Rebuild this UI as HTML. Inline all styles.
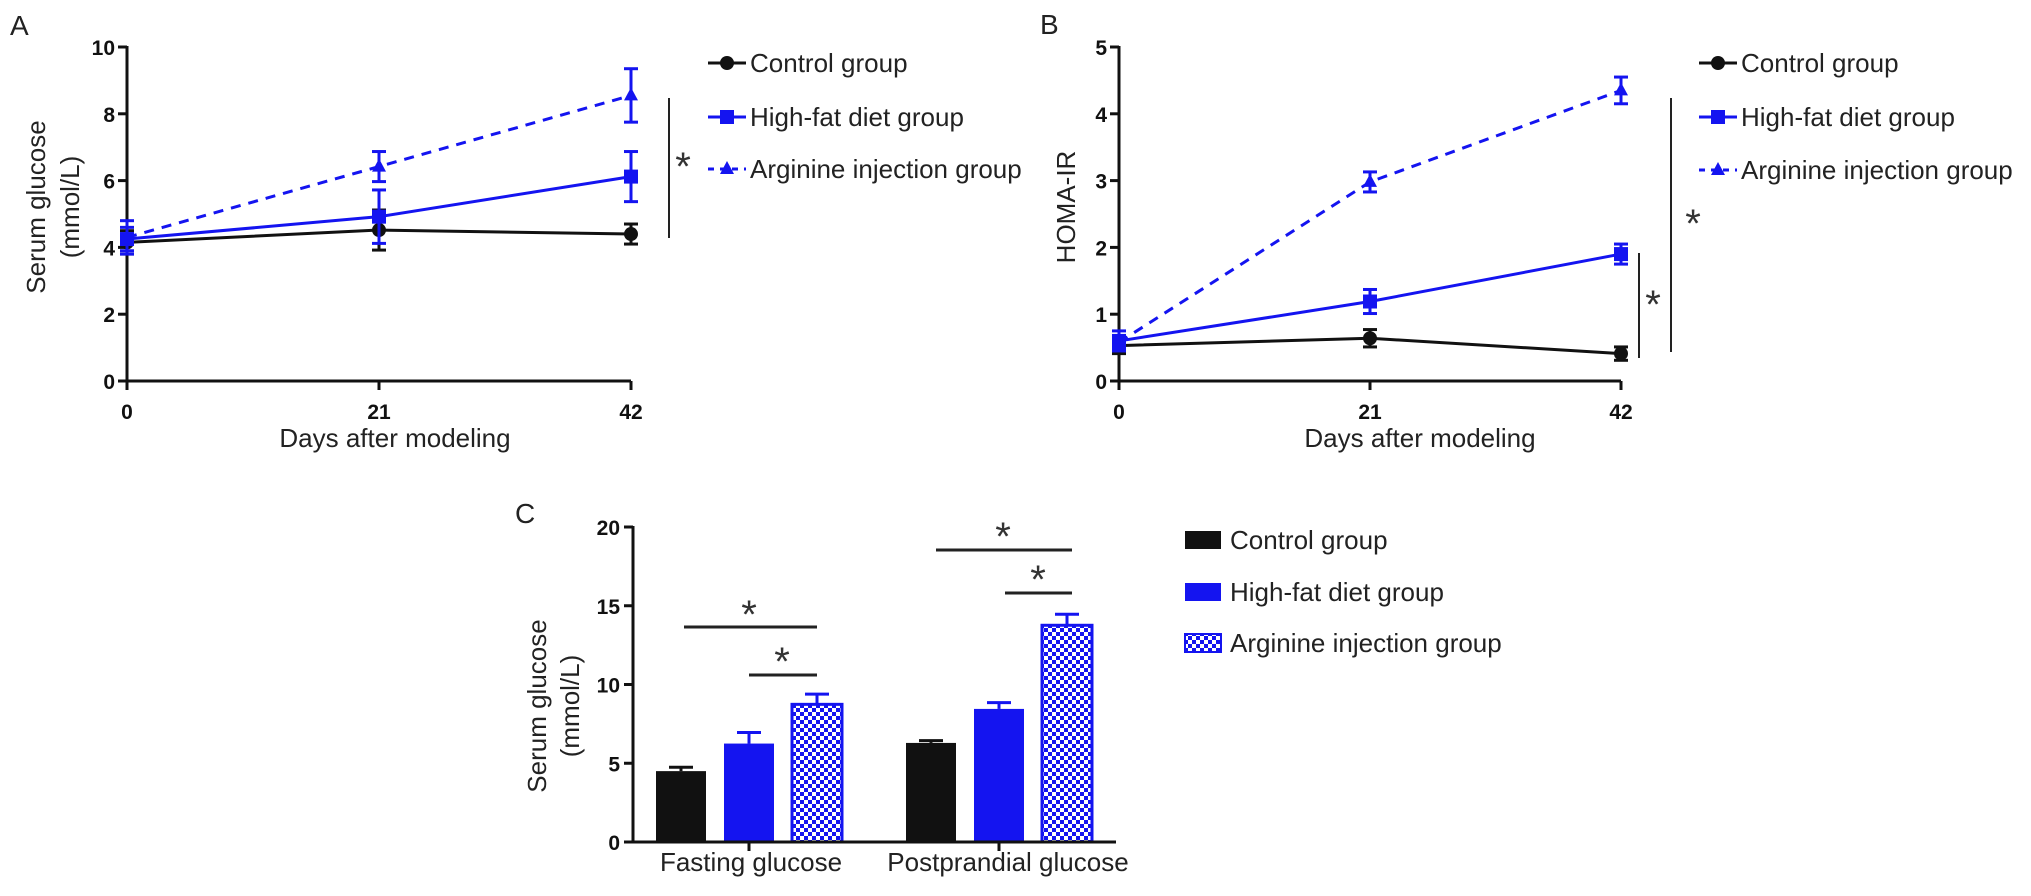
<!DOCTYPE html>
<html><head><meta charset="utf-8"><style>
html,body{margin:0;padding:0;background:#fff;}
svg{display:block;font-family:"Liberation Sans",Arial,sans-serif;}
.tk{font-weight:bold;font-size:21px;fill:#111;}
.lg{font-size:26px;fill:#222;}
.tt{font-size:26px;fill:#222;}
</style></head><body>
<svg id="fig" width="2031" height="896" viewBox="0 0 2031 896" xmlns="http://www.w3.org/2000/svg">
<defs>
<pattern id="chk" width="8" height="8" patternUnits="userSpaceOnUse">
<rect width="8" height="8" fill="#fff"/><rect width="4" height="4" fill="#1414f0"/><rect x="4" y="4" width="4" height="4" fill="#1414f0"/>
</pattern>
</defs>
</svg>
<script>
// Panel A data
const daysX = [0, 21, 42];
const aCtrl = [4.15, 4.52, 4.4];
const aCtrlErr = [0.35, 0.6, 0.3];
const aHF = [4.25, 4.92, 6.12];
const aHFErr = [0.35, 0.8, 0.75];
const aArg = [4.3, 6.42, 8.55];
const aArgErr = [0.5, 0.45, 0.8];
const aTicks = [0, 2, 4, 6, 8, 10];
// Panel B data
const bCtrl = [0.53, 0.64, 0.41];
const bCtrlErr = [0.12, 0.13, 0.1];
const bHF = [0.6, 1.19, 1.9];
const bHFErr = [0.15, 0.18, 0.15];
const bArg = [0.58, 2.98, 4.35];
const bArgErr = [0.1, 0.15, 0.2];
const bTicks = [0, 1, 2, 3, 4, 5];
// Panel C data
const cCats = ["Fasting glucose", "Postprandial glucose"];
const cCtrl = [4.5, 6.29];
const cCtrlErr = [0.25, 0.15];
const cHF = [6.25, 8.45];
const cHFErr = [0.7, 0.4];
const cArg = [8.74, 13.76];
const cArgErr = [0.65, 0.7];
const cTicks = [0, 5, 10, 15, 20];
const xTickLabels = ["0", "21", "42"];
const groups = ["Control group", "High-fat diet group", "Arginine injection group"];

const NS = "http://www.w3.org/2000/svg";
const svg = document.getElementById('fig');
const BLUE = "#1414f0";
function mk(tag, attrs, parent, text) {
  const e = document.createElementNS(NS, tag);
  for (const k in attrs) e.setAttribute(k, attrs[k]);
  if (text !== undefined) e.textContent = text;
  (parent || svg).appendChild(e);
  return e;
}
function marker(kind, x, y, color, g) {
  let m;
  if (kind === 0) m = mk('circle', {cx: x, cy: y, r: 7, fill: color}, g);
  else if (kind === 1) m = mk('rect', {x: x - 7, y: y - 7, width: 14, height: 14, fill: color}, g);
  else m = mk('polygon', {points: `${x},${y - 8} ${x - 7},${y + 5} ${x + 7},${y + 5}`, fill: color}, g);
  return m;
}

function linePanel(p) {
  const xs = d => p.x0 + (d / 42) * (p.x1 - p.x0);
  const ys = v => p.y0 - (v / p.ymax) * (p.y0 - p.ytop);
  const g = mk('g', {});
  
  
  const ya = mk('line', {x1: p.x0, y1: p.ytop - 1, x2: p.x0, y2: p.y0 + 9, stroke: '#111', 'stroke-width': 3}, g);
  
  
  const xa = mk('line', {x1: p.x0 - 9, y1: p.y0, x2: p.x1, y2: p.y0, stroke: '#111', 'stroke-width': 3}, g);
  
  
  p.ticks.forEach(t => {
    mk('line', {x1: p.x0 - 9, y1: ys(t), x2: p.x0, y2: ys(t), stroke: '#111', 'stroke-width': 3}, g);
    const l = mk('text', {x: p.x0 - 12, y: ys(t) + 8, 'text-anchor': 'end', class: 'tk'}, g, String(t));
    
    
  });
  daysX.forEach((d, i) => {
    mk('line', {x1: xs(d), y1: p.y0, x2: xs(d), y2: p.y0 + 9, stroke: '#111', 'stroke-width': 3}, g);
    const l = mk('text', {x: xs(d), y: p.y0 + 38, 'text-anchor': 'middle', class: 'tk'}, g, xTickLabels[i]);
    
    
  });
  const xt = mk('text', {x: p.xtitleX, y: p.y0 + 66, 'text-anchor': 'middle', class: 'tt'}, g, 'Days after modeling');
  
  
  const series = [[p.ctrl, p.ctrlErr, '#111', 0, null], [p.hf, p.hfErr, BLUE, 1, null], [p.arg, p.argErr, BLUE, 2, '10,8']];
  series.forEach((s, si) => {
    const sg = mk('g', {}, g);
    
    
    const pts = s[0].map((v, i) => xs(daysX[i]) + ',' + ys(v)).join(' ');
    const pl = mk('polyline', {points: pts, fill: 'none', stroke: s[2], 'stroke-width': 3}, sg);
    if (s[4]) pl.setAttribute('stroke-dasharray', s[4]);
    s[0].forEach((v, i) => {
      const x = xs(daysX[i]), e = s[1][i];
      mk('line', {x1: x, y1: ys(v + e), x2: x, y2: ys(v - e), stroke: s[2], 'stroke-width': 3}, sg);
      mk('line', {x1: x - 7, y1: ys(v + e), x2: x + 7, y2: ys(v + e), stroke: s[2], 'stroke-width': 3}, sg);
      mk('line', {x1: x - 7, y1: ys(v - e), x2: x + 7, y2: ys(v - e), stroke: s[2], 'stroke-width': 3}, sg);
      const m = marker(s[3], x, ys(v), s[2], sg);
      
      
    });
  });
  groups.forEach((name, i) => {
    const lg = mk('g', {}, g);
    
    
    const y = p.legY[i];
    const col = i === 0 ? '#111' : BLUE;
    const ln = mk('line', {x1: p.legX, y1: y, x2: p.legX + 38, y2: y, stroke: col, 'stroke-width': 3}, lg);
    if (i === 2) ln.setAttribute('stroke-dasharray', '6,6');
    marker(i, p.legX + 19, y, col, lg);
    mk('text', {x: p.legX + 42, y: y + 9, class: 'lg'}, lg, name);
  });
}

linePanel({name: 'panel-a', x0: 127, x1: 631, y0: 381, ytop: 47, ymax: 10, ticks: aTicks,
  ctrl: aCtrl, ctrlErr: aCtrlErr, hf: aHF, hfErr: aHFErr, arg: aArg, argErr: aArgErr,
  legX: 708, legY: [63, 117, 169], xtitleX: 395});
linePanel({name: 'panel-b', x0: 1119, x1: 1621, y0: 381, ytop: 47, ymax: 5, ticks: bTicks,
  ctrl: bCtrl, ctrlErr: bCtrlErr, hf: bHF, hfErr: bHFErr, arg: bArg, argErr: bArgErr,
  legX: 1699, legY: [63, 117, 170], xtitleX: 1420});

function txt(a, s, name) { const t = mk('text', a, svg, s);   return t; }
txt({x: 10, y: 35, style: 'font-size:28px;fill:#222'}, 'A', 'panel-label-a');
txt({x: 1040, y: 34, style: 'font-size:28px;fill:#222'}, 'B', 'panel-label-b');
txt({x: 515, y: 523, style: 'font-size:28px;fill:#222'}, 'C', 'panel-label-c');
txt({x: 0, y: 0, class: 'tt', 'text-anchor': 'middle', transform: 'translate(45,207) rotate(-90)'}, 'Serum glucose', 'y-axis-title-a');
txt({x: 0, y: 0, class: 'tt', 'text-anchor': 'middle', transform: 'translate(79,207) rotate(-90)'}, '(mmol/L)', 'y-axis-title-a-unit');
txt({x: 0, y: 0, class: 'tt', 'text-anchor': 'middle', transform: 'translate(1075,207) rotate(-90)'}, 'HOMA-IR', 'y-axis-title-b');
txt({x: 0, y: 0, class: 'tt', 'text-anchor': 'middle', transform: 'translate(546,706) rotate(-90)'}, 'Serum glucose', 'y-axis-title-c');
txt({x: 0, y: 0, class: 'tt', 'text-anchor': 'middle', transform: 'translate(579,706) rotate(-90)'}, '(mmol/L)', 'y-axis-title-c-unit');

function sig(x1, y1, x2, y2, ax, ay, w) {
  const l = mk('line', {x1, y1, x2, y2, stroke: '#222', 'stroke-width': w || 2});
  
  
  txt({x: ax, y: ay + 20, 'text-anchor': 'middle', style: 'font-size:40px;fill:#333'}, '*', 'significance-asterisk');
}
sig(669, 98, 669, 238, 683, 160);
sig(1671, 98, 1671, 352, 1693, 217);
sig(1639, 253, 1639, 358, 1653, 298);

const cx0 = 633, cx1 = 1116, cy0 = 842, cyTop = 527, cMax = 20;
const cys = v => cy0 - (v / cMax) * (cy0 - cyTop);
const groupCenters = [749, 999];
const barW = 50, barStep = 68;
const cg = mk('g', {});


cTicks.forEach(t => {
  mk('line', {x1: cx0 - 9, y1: cys(t), x2: cx0, y2: cys(t), stroke: '#111', 'stroke-width': 3}, cg);
  const l = mk('text', {x: cx0 - 13, y: cys(t) + 8, 'text-anchor': 'end', class: 'tk'}, cg, String(t));
  
  
});
const bars = [[cCtrl, cCtrlErr, '#111', '#111'], [cHF, cHFErr, BLUE, BLUE], [cArg, cArgErr, 'url(#chk)', BLUE]];
cCats.forEach((cat, gi) => {
  const c = groupCenters[gi];
  bars.forEach((b, bi) => {
    const v = b[0][gi], e = b[1][gi];
    const xc = c + (bi - 1) * barStep;
    mk('line', {x1: xc, y1: cys(v), x2: xc, y2: cys(v + e), stroke: b[3], 'stroke-width': 3}, cg);
    mk('line', {x1: xc - 12, y1: cys(v + e), x2: xc + 12, y2: cys(v + e), stroke: b[3], 'stroke-width': 3}, cg);
    const r = mk('rect', {x: xc - barW / 2, y: cys(v), width: barW, height: cy0 - cys(v), fill: b[2], stroke: b[3], 'stroke-width': bi === 2 ? 3 : 0}, cg);
    
    
  });
  mk('line', {x1: c, y1: cy0, x2: c, y2: cy0 + 9, stroke: '#111', 'stroke-width': 3}, cg);
  const l = mk('text', {x: c + (gi === 0 ? 2 : 9), y: 871, 'text-anchor': 'middle', class: 'tt'}, cg, cat);
  
  
});
const cya = mk('line', {x1: cx0, y1: cyTop - 1, x2: cx0, y2: cy0, stroke: '#111', 'stroke-width': 3}, cg);


const cxa = mk('line', {x1: cx0 - 9, y1: cy0, x2: cx1, y2: cy0, stroke: '#111', 'stroke-width': 3}, cg);



sig(684, 627, 817, 627, 749, 608, 3);
sig(749, 675, 817, 675, 782, 655, 3);
sig(936, 550, 1072, 550, 1003, 530, 3);
sig(1005, 593, 1072, 593, 1038, 573, 3);

const cLegY = [540, 592, 643];
const cLegFill = ['#111', BLUE, 'url(#chk)'];
groups.forEach((name, i) => {
  const lg = mk('g', {});
  
  
  mk('rect', {x: 1185, y: cLegY[i] - 9, width: 36, height: 18, fill: cLegFill[i], stroke: i === 2 ? BLUE : 'none', 'stroke-width': 2}, lg);
  mk('text', {x: 1230, y: cLegY[i] + 9, class: 'lg'}, lg, name);
});
</script>
</body></html>
